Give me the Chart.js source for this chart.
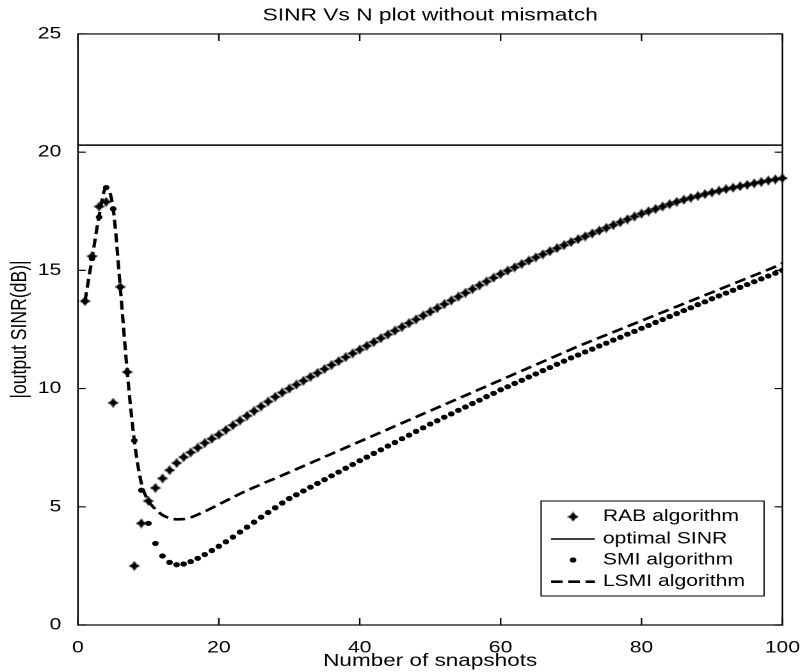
<!DOCTYPE html>
<html>
<head>
<meta charset="utf-8">
<script src="https://cdn.jsdelivr.net/npm/chart.js@4/dist/chart.umd.min.js"></script>
<style>
html,body{margin:0;padding:0;background:#fff;overflow:hidden;}
#wrap{width:630px;height:672px;transform:scaleX(1.28);transform-origin:0 0;}
</style>
</head>
<body>
<div id="wrap"><canvas id="sinrChart" width="630" height="672"></canvas></div>
<script>
/* =========================
   SINR VS N DATA
========================= */

const snapshots = [
1,2,3,4,5,6,7,8,9,10,
11,12,13,14,15,16,17,18,19,20,
21,22,23,24,25,26,27,28,29,30,
31,32,33,34,35,36,37,38,39,40,
41,42,43,44,45,46,47,48,49,50,
51,52,53,54,55,56,57,58,59,60,
61,62,63,64,65,66,67,68,69,70,
71,72,73,74,75,76,77,78,79,80,
81,82,83,84,85,86,87,88,89,90,
91,92,93,94,95,96,97,98,99,100
];

const rabSinr = [
13.7,15.6,17.7,17.9,9.4,14.3,10.7,2.5,4.3,5.25,
5.8,6.2,6.55,6.85,7.1,7.3,7.5,7.7,7.88,8.05,
8.25,8.45,8.65,8.85,9.05,9.25,9.45,9.65,9.83,10.0,
10.17,10.33,10.5,10.66,10.83,11.0,11.16,11.33,11.49,11.65,
11.81,11.97,12.13,12.29,12.45,12.61,12.77,12.93,13.09,13.25,
13.41,13.57,13.73,13.89,14.05,14.21,14.37,14.53,14.69,14.85,
14.99,15.13,15.27,15.41,15.55,15.68,15.81,15.94,16.07,16.2,
16.32,16.44,16.56,16.68,16.8,16.92,17.04,17.16,17.28,17.4,
17.5,17.6,17.7,17.8,17.9,17.99,18.07,18.15,18.23,18.3,
18.37,18.44,18.5,18.56,18.62,18.68,18.74,18.8,18.85,18.9
];

const smiSinr = [
13.7,15.5,17.25,18.5,17.6,14.3,10.7,7.8,5.7,4.3,
3.45,2.92,2.65,2.55,2.58,2.68,2.82,2.98,3.15,3.33,
3.52,3.72,3.93,4.14,4.35,4.56,4.76,4.96,5.16,5.35,
5.51,5.67,5.83,5.99,6.15,6.31,6.47,6.63,6.79,6.95,
7.1,7.26,7.41,7.57,7.72,7.88,8.03,8.19,8.34,8.5,
8.64,8.79,8.93,9.08,9.22,9.37,9.51,9.66,9.8,9.95,
10.08,10.22,10.35,10.49,10.62,10.76,10.89,11.03,11.16,11.3,
11.42,11.55,11.67,11.8,11.92,12.05,12.17,12.3,12.42,12.55,
12.67,12.8,12.92,13.05,13.17,13.3,13.42,13.55,13.67,13.8,
13.92,14.04,14.16,14.28,14.4,14.52,14.64,14.76,14.88,15.0
];

const lsmiSinr = [
13.7,15.5,17.3,18.5,17.6,14.3,10.7,7.8,6.0,5.25,
4.9,4.65,4.52,4.47,4.48,4.55,4.67,4.8,4.95,5.1,
5.25,5.4,5.55,5.69,5.82,5.95,6.08,6.2,6.33,6.46,
6.59,6.72,6.85,6.98,7.11,7.24,7.37,7.5,7.63,7.76,
7.89,8.02,8.15,8.28,8.41,8.54,8.67,8.8,8.93,9.06,
9.19,9.32,9.45,9.58,9.71,9.84,9.97,10.1,10.23,10.36,
10.49,10.62,10.75,10.88,11.01,11.14,11.27,11.4,11.53,11.66,
11.79,11.91,12.03,12.15,12.27,12.39,12.51,12.63,12.75,12.87,
12.99,13.11,13.23,13.35,13.47,13.59,13.71,13.83,13.95,14.07,
14.19,14.31,14.43,14.55,14.67,14.79,14.91,15.03,15.16,15.3
];

const optimalSinr = 20.3;
const optimalRange = [0,100];

const xTicks = [0,20,40,60,80,100];
const yTicks = [0,5,10,15,20,25];

/* =========================
   HELPERS
========================= */

const FONT = "'Liberation Sans', Arial, sans-serif";

const toPoints = (vals)=>snapshots.map((n,i)=>({x:n,y:vals[i]}));

// bold four-point marker like the matlab one
function starMarker(){
const c = document.createElement("canvas");
c.width = 9; c.height = 10;
const g = c.getContext("2d");
g.fillStyle = "#000";
g.beginPath();
g.moveTo(4.5,0);
g.lineTo(6.3,3.2);
g.lineTo(9,5);
g.lineTo(6.3,6.8);
g.lineTo(4.5,10);
g.lineTo(2.7,6.8);
g.lineTo(0,5);
g.lineTo(2.7,3.2);
g.closePath();
g.fill();
return c;
}

const rabMarker = starMarker();

// box + inward ticks, matlab style
const framePlugin = {
id:"frame",
afterDatasetsDraw(chart){
const {ctx, chartArea:a, scales} = chart;
ctx.save();
ctx.strokeStyle = "#000";
ctx.lineWidth = 1.2;
ctx.strokeRect(a.left, a.top, a.right-a.left, a.bottom-a.top);
ctx.beginPath();
xTicks.forEach(v=>{
const px = scales.x.getPixelForValue(v);
ctx.moveTo(px, a.bottom); ctx.lineTo(px, a.bottom-7);
ctx.moveTo(px, a.top); ctx.lineTo(px, a.top+7);
});
yTicks.forEach(v=>{
const py = scales.y.getPixelForValue(v);
ctx.moveTo(a.left, py); ctx.lineTo(a.left+6, py);
ctx.moveTo(a.right, py); ctx.lineTo(a.right-6, py);
});
ctx.stroke();
ctx.restore();
},
afterDraw(chart){
// legend box in lower right of the axes
const ctx = chart.ctx;
const box = {l:422.7, t:501, r:596.9, b:596};
const rows = [516.7, 539, 560, 581.7];
const x1 = 430.5, x2 = 464.8, mx = 447.7, tx = 471;
ctx.save();
ctx.fillStyle = "#fff";
ctx.fillRect(box.l, box.t, box.r-box.l, box.b-box.t);
ctx.strokeStyle = "#000";
ctx.lineWidth = 1;
ctx.strokeRect(box.l, box.t, box.r-box.l, box.b-box.t);
const order = [3,0,1,2];
order.forEach((di,k)=>{
const ds = chart.data.datasets[di];
const y = rows[k];
if(ds.showLine){
ctx.beginPath();
ctx.lineWidth = ds.borderWidth;
ctx.setLineDash(ds.borderDash || []);
ctx.moveTo(x1, y); ctx.lineTo(x2, y);
ctx.stroke();
ctx.setLineDash([]);
}
if(ds.pointStyle === rabMarker){
ctx.drawImage(rabMarker, mx-rabMarker.width/2, y-rabMarker.height/2);
}else if(!ds.showLine){
ctx.beginPath();
ctx.fillStyle = "#000";
ctx.arc(mx, y, ds.pointRadius, 0, Math.PI*2);
ctx.fill();
}
ctx.fillStyle = "#000";
ctx.font = "16.5px " + FONT;
ctx.textBaseline = "middle";
ctx.textAlign = "left";
ctx.fillText(ds.label, tx, y);
});
ctx.restore();
}
};

/* =========================
   CHART
========================= */

new Chart(document.getElementById("sinrChart"),{

type:"scatter",

data:{
datasets:[
{
label:"optimal SINR",
data:optimalRange.map(x=>({x:x,y:optimalSinr})),
showLine:true,
borderColor:"#000",
borderWidth:1.5,
pointRadius:0,
order:4
},
{
label:"SMI algorithm",
data:toPoints(smiSinr),
showLine:false,
pointRadius:2.6,
pointStyle:"circle",
backgroundColor:"#000",
borderColor:"#000",
borderWidth:0,
order:2
},
{
label:"LSMI algorithm",
data:toPoints(lsmiSinr),
showLine:true,
borderColor:"#000",
borderWidth:2.6,
borderDash:[9,4.5],
cubicInterpolationMode:"monotone",
pointRadius:0,
order:3
},
{
label:"RAB algorithm",
data:toPoints(rabSinr),
showLine:false,
pointStyle:rabMarker,
pointRadius:4.5,
backgroundColor:"#000",
borderColor:"#000",
clip:10,
order:1
}
]
},

plugins:[framePlugin],

options:{
responsive:false,
animation:false,
devicePixelRatio:2,
layout:{padding:{left:0,right:16,top:0,bottom:0}},
plugins:{
legend:{display:false},
tooltip:{enabled:false},
title:{
display:true,
text:"SINR Vs N plot without mismatch",
color:"#000",
fullSize:false,
font:{family:FONT,size:17.8,weight:"normal"},
padding:{top:5,bottom:7.6}
}
},
scales:{
x:{
type:"linear",
min:0,
max:100,
afterFit:(s)=>{s.height = 47;},
afterBuildTicks:(s)=>{s.ticks = xTicks.map(v=>({value:v}));},
grid:{display:false},
border:{display:false},
ticks:{color:"#000",padding:5,maxRotation:0,font:{family:FONT,size:16.5}},
title:{display:true,text:"Number of snapshots",color:"#000",
font:{family:FONT,size:17.6,lineHeight:1},padding:{top:0,bottom:2}}
},
y:{
type:"linear",
min:0,
max:25,
afterFit:(s)=>{s.width = 60.9;},
afterBuildTicks:(s)=>{s.ticks = yTicks.map(v=>({value:v}));},
grid:{display:false},
border:{display:false},
ticks:{color:"#000",padding:5,font:{family:FONT,size:16.5}},
title:{display:true,text:"|output SINR(dB)|",color:"#000",
font:{family:FONT,size:17.6,lineHeight:1},padding:{top:7,bottom:0}}
}
}
}

});
</script>
</body>
</html>
